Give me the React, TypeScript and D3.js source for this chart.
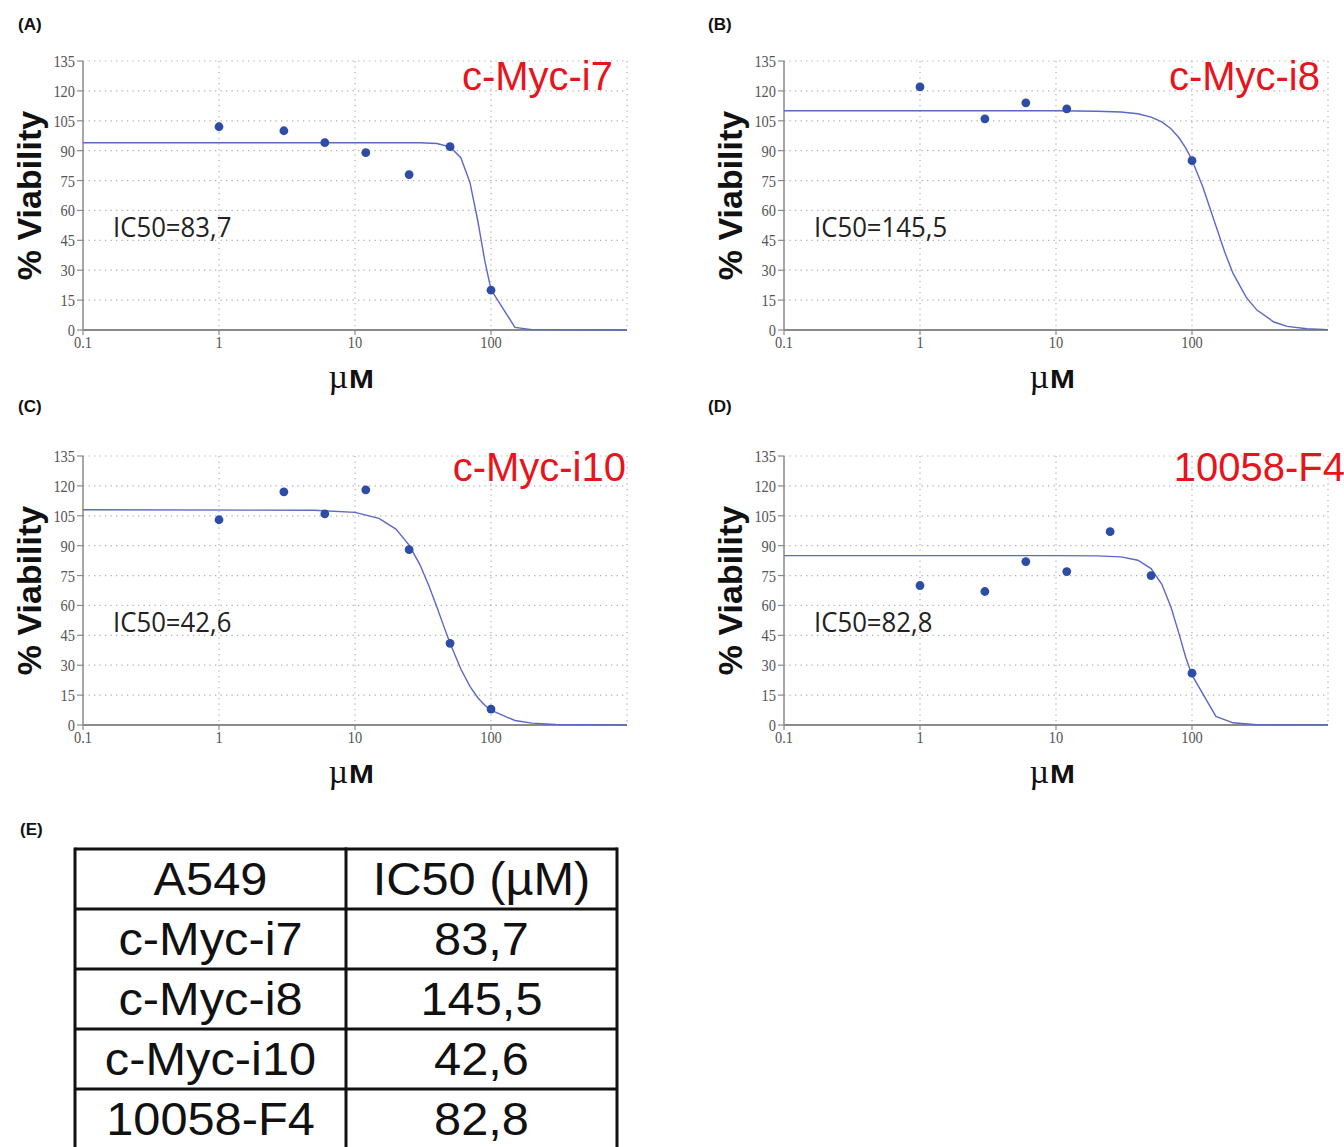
import React from 'react';
import * as d3 from 'd3';

// ---------- data ----------
const panelLetters = ['(A)', '(B)', '(C)', '(D)'];
const compounds = ['c-Myc-i7', 'c-Myc-i8', 'c-Myc-i10', '10058-F4'];
const ic50Values = ['83,7', '145,5', '42,6', '82,8'];

const yTicks = [0, 15, 30, 45, 60, 75, 90, 105, 120, 135];
const xTicks = [0.1, 1, 10, 100];
const xTickLabels = ['0.1', '1', '10', '100'];
const xGrid = [1, 10, 100, 1000];

// measured points (µM, % viability)
const concA = [1, 3, 6, 12, 25, 50, 100];
const viabA = [102, 100, 94, 89, 78, 92, 20];
const concB = [1, 3, 6, 12, 100];
const viabB = [122, 106, 114, 111, 85];
const concC = [1, 3, 6, 12, 25, 50, 100];
const viabC = [103, 117, 106, 118, 88, 41, 8];
const concD = [1, 3, 6, 12, 25, 50, 100];
const viabD = [70, 67, 82, 77, 97, 75, 26];

// fitted curves (µM, % viability)
const curveConcA = [0.1, 10, 30, 40, 50, 60, 70, 80, 90, 100, 150, 200, 1000];
const curveViabA = [94, 94, 94, 93.6, 91.9, 86.5, 74.1, 54.7, 34.8, 20.3, 1.3, 0.2, 0];
const curveConcB = [0.1, 10, 20, 30, 40, 50, 60, 70, 80, 90, 100, 120, 150, 175, 200, 250, 300, 400, 500, 700, 1000];
const curveViabB = [110, 110, 109.8, 109.4, 108.5, 106.8, 104.4, 101, 96.6, 91.3, 85.3, 71.9, 52.2, 38.7, 28.5, 16.5, 10, 4, 1.8, 0.6, 0.2];
const curveConcC = [0.1, 5, 10, 15, 20, 25, 30, 35, 40, 45, 50, 60, 70, 80, 90, 100, 150, 200, 300, 1000];
const curveViabC = [108, 107.8, 106.7, 103.7, 98.3, 90.3, 80.5, 69.8, 59.2, 49.5, 41, 28.1, 19.4, 13.7, 9.9, 7.4, 2.25, 0.95, 0.27, 0];
const curveConcD = [0.1, 10, 20, 30, 40, 50, 60, 70, 80, 90, 100, 150, 200, 300, 1000];
const curveViabD = [85, 85, 84.9, 84.4, 82.7, 78.5, 70.6, 59.2, 46.1, 33.9, 25, 4.3, 1.1, 0.15, 0];

const tableHeader = ['A549', 'IC50 (\u00b5M)'];
const tableNames = ['c-Myc-i7', 'c-Myc-i8', 'c-Myc-i10', '10058-F4'];
const tableValues = ['83,7', '145,5', '42,6', '82,8'];

// ---------- layout ----------
const W = 1344;
const H = 1147;
const PW = 544;
const PH = 269;
const panels = [
  { left: 83, top: 61, conc: concA, viab: viabA, cc: curveConcA, cv: curveViabA },
  { left: 784, top: 61, conc: concB, viab: viabB, cc: curveConcB, cv: curveViabB },
  { left: 83, top: 456, conc: concC, viab: viabC, cc: curveConcC, cv: curveViabC },
  { left: 784, top: 456, conc: concD, viab: viabD, cc: curveConcD, cv: curveViabD },
];
const titleRight = [613, 1320, 626, 1345];
const titleBaseline = [90, 90, 481, 481];
const letterPos = [[18, 30], [708, 30], [18, 412], [708, 412]];

const SANS = '"Liberation Sans", Arial, sans-serif';
const SERIF = '"Liberation Serif", "Times New Roman", serif';

const x = d3.scaleLog().domain([0.1, 1000]).range([0, PW]);
const y = d3.scaleLinear().domain([0, 135]).range([PH, 0]);

function Panel({ idx }: { idx: number }) {
  const p = panels[idx];
  const line = d3
    .line<[number, number]>()
    .x((d) => x(d[0]))
    .y((d) => y(d[1]))
    .curve(d3.curveLinear);
  const curvePts: [number, number][] = p.cc.map((c, i) => [c, p.cv[i]]);
  return (
    <g>
      <text x={letterPos[idx][0]} y={letterPos[idx][1]} fontFamily={SANS} fontWeight="bold" fontSize={17} fill="#111">
        {panelLetters[idx]}
      </text>
      <g transform={`translate(${p.left},${p.top})`}>
        {/* horizontal grid */}
        {yTicks.filter((t) => t > 0).map((t) => (
          <line key={'h' + t} x1={0} x2={PW} y1={y(t)} y2={y(t)} stroke="#b0b0b0" strokeWidth={1.2} strokeDasharray="1.3,4.2" />
        ))}
        {xGrid.map((t) => (
          <line key={'v' + t} x1={x(t)} x2={x(t)} y1={0} y2={PH} stroke="#b0b0b0" strokeWidth={1.2} strokeDasharray="1.3,4.2" />
        ))}
        {/* axes */}
        <line x1={0} x2={0} y1={0} y2={PH} stroke="#8a8a8a" strokeWidth={1.5} />
        <line x1={0} x2={PW} y1={PH} y2={PH} stroke="#8a8a8a" strokeWidth={1.8} />
        {yTicks.map((t) => (
          <g key={'yt' + t}>
            <line x1={-6} x2={0} y1={y(t)} y2={y(t)} stroke="#8a8a8a" strokeWidth={1.2} />
            <text
              transform={`translate(${-8},${y(t) + 6}) scale(0.9,1)`}
              textAnchor="end"
              fontFamily={SERIF}
              fontSize={16}
              fill="#555"
            >
              {t}
            </text>
          </g>
        ))}
        {xTicks.map((t, i) => (
          <g key={'xt' + t}>
            <line x1={x(t)} x2={x(t)} y1={PH} y2={PH + 5} stroke="#8a8a8a" strokeWidth={1.2} />
            <text
              transform={`translate(${x(t)},${PH + 18}) scale(0.9,1)`}
              textAnchor="middle"
              fontFamily={SERIF}
              fontSize={16}
              fill="#555"
            >
              {xTickLabels[i]}
            </text>
          </g>
        ))}
        {/* fitted curve */}
        <path d={line(curvePts) || ''} fill="none" stroke="#5a68c6" strokeWidth={1.4} />
        {/* points */}
        {p.conc.map((c, i) => (
          <circle key={'pt' + i} cx={x(c)} cy={y(p.viab[i])} r={4.4} fill="#2d4ca6" />
        ))}
        {/* IC50 label */}
        <text
          transform={`translate(30,176) scale(0.92,1)`}
          fontFamily='"Open Sans", sans-serif'
          fontSize={28}
          fill="#222"
        >
          {'IC50=' + ic50Values[idx]}
        </text>
        {/* axis titles */}
        <text
          transform={`translate(${-42},${PH / 2}) rotate(-90)`}
          textAnchor="middle"
          fontFamily={SANS}
          fontWeight="bold"
          fontSize={34}
          fill="#111"
        >
          % Viability
        </text>
        <text x={PW / 2 - 7} y={PH + 58} textAnchor="end" fontFamily={SERIF} fontSize={34} fill="#111">
          {'\u00b5'}
        </text>
        <text
          transform={`translate(${PW / 2 - 6},${PH + 58}) scale(1.15,1)`}
          fontFamily={SANS}
          fontWeight="bold"
          fontSize={26}
          fill="#111"
        >
          M
        </text>
      </g>
      {/* compound title */}
      <text
        x={titleRight[idx]}
        y={titleBaseline[idx]}
        textAnchor="end"
        fontFamily={SANS}
        fontSize={40}
        fill="#e8141c"
      >
        {compounds[idx]}
      </text>
    </g>
  );
}

function Table() {
  const left = 75;
  const mid = 346;
  const right = 617;
  const top = 849;
  const rowH = 60;
  const rows = [tableHeader, ...tableNames.map((n, i) => [n, tableValues[i]])];
  const rowScale = d3.scaleLinear().domain([0, 1]).range([top, top + rowH]);
  return (
    <g>
      <text x={20} y={835} fontFamily={SANS} fontWeight="bold" fontSize={17} fill="#111">
        (E)
      </text>
      {rows.map((r, i) => (
        <g key={'r' + i}>
          <line x1={left} x2={right} y1={rowScale(i)} y2={rowScale(i)} stroke="#111" strokeWidth={3} />
          <text
            transform={`translate(${(left + mid) / 2},${rowScale(i) + 46}) scale(1.06,1)`}
            textAnchor="middle"
            fontFamily={SANS}
            fontSize={46}
            fill="#111"
          >
            {r[0]}
          </text>
          <text
            transform={`translate(${(mid + right) / 2},${rowScale(i) + 46}) scale(1.06,1)`}
            textAnchor="middle"
            fontFamily={SANS}
            fontSize={46}
            fill="#111"
          >
            {r[1]}
          </text>
        </g>
      ))}
      <line x1={left} x2={right} y1={rowScale(rows.length)} y2={rowScale(rows.length)} stroke="#111" strokeWidth={3} />
      {[left, mid, right].map((vx) => (
        <line key={'c' + vx} x1={vx} x2={vx} y1={top - 1.5} y2={H + 5} stroke="#111" strokeWidth={3} />
      ))}
    </g>
  );
}

export default function App() {
  return (
    <svg
      width={W}
      height={H}
      viewBox={`0 0 ${W} ${H}`}
      style={{ position: 'absolute', left: 0, top: 0, background: '#fff' }}
    >
      <rect width={W} height={H} fill="#fff" />
      {panels.map((_, i) => (
        <Panel key={i} idx={i} />
      ))}
      <Table />
    </svg>
  );
}
